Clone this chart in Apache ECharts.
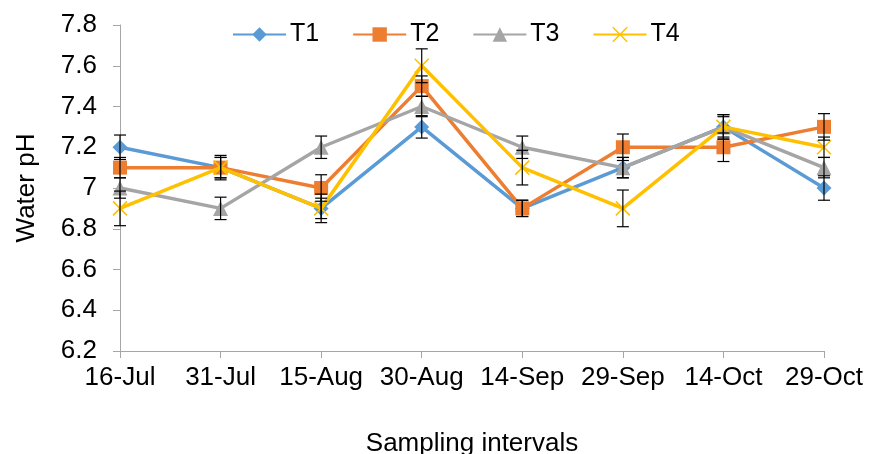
<!DOCTYPE html>
<html>
<head>
<meta charset="utf-8">
<script src="https://cdn.jsdelivr.net/npm/echarts@6/dist/echarts.min.js"></script>
<style>
html, body { margin: 0; padding: 0; background: #fff; }
#chart { width: 871px; height: 454px; }
</style>
</head>
<body>
<div id="chart"></div>
<script>
var dates = ['16-Jul', '31-Jul', '15-Aug', '30-Aug', '14-Sep', '29-Sep', '14-Oct', '29-Oct'];
var t1 = [7.2, 7.1, 6.9, 7.3, 6.9, 7.1, 7.3, 7.0];
var t2 = [7.1, 7.1, 7.0, 7.5, 6.9, 7.2, 7.2, 7.3];
var t3 = [7.0, 6.9, 7.2, 7.4, 7.2, 7.1, 7.3, 7.1];
var t4 = [6.9, 7.1, 6.9, 7.6, 7.1, 6.9, 7.3, 7.2];
var t1Err = [0.06, 0.05, 0.05, 0.055, 0.04, 0.05, 0.05, 0.06];
var t2Err = [0.05, 0.05, 0.065, 0.05, 0.04, 0.065, 0.07, 0.065];
var t3Err = [0.05, 0.055, 0.055, 0.05, 0.055, 0.05, 0.06, 0.05];
var t4Err = [0.085, 0.06, 0.07, 0.083, 0.085, 0.09, 0.06, 0.05];

var names = ['T1', 'T2', 'T3', 'T4'];
var colors = ['#5b9bd5', '#ed7d31', '#a5a5a5', '#ffc000'];
var values = [t1, t2, t3, t4];
var errors = [t1Err, t2Err, t3Err, t4Err];
var symbols = ['diamond', 'rect', 'triangle', 'path://M0,0L10,10M10,0L0,10'];
var symbolSizes = [15, 14, 15, 14];

function errorRender(params, api) {
	var i = api.value(0);
	var lo = api.coord([i, api.value(1)]);
	var hi = api.coord([i, api.value(2)]);
	var cap = 6;
	var style = { stroke: '#000', lineWidth: 1.2 };
	return {
		type: 'group',
		children: [
			{ type: 'line', shape: { x1: lo[0], y1: lo[1], x2: hi[0], y2: hi[1] }, style: style },
			{ type: 'line', shape: { x1: lo[0] - cap, y1: lo[1], x2: lo[0] + cap, y2: lo[1] }, style: style },
			{ type: 'line', shape: { x1: hi[0] - cap, y1: hi[1], x2: hi[0] + cap, y2: hi[1] }, style: style }
		]
	};
}

var series = [];
for (var s = 0; s < 4; s++) {
	var isX = s === 3;
	series.push({
		name: names[s],
		type: 'line',
		data: values[s],
		symbol: symbols[s],
		symbolSize: symbolSizes[s],
		showAllSymbol: true,
		z: 2 + s,
		lineStyle: { color: colors[s], width: 3.5 },
		itemStyle: isX ? { color: 'none', borderColor: colors[s], borderWidth: 1.5 } : { color: colors[s] },
		emphasis: { disabled: true }
	});
	var errData = [];
	for (var k = 0; k < dates.length; k++) {
		errData.push([k, values[s][k] - errors[s][k], values[s][k] + errors[s][k]]);
	}
	series.push({
		type: 'custom',
		name: names[s] + ' err',
		renderItem: errorRender,
		data: errData,
		encode: { x: 0, y: [1, 2] },
		z: 10,
		silent: true
	});
}

var chart = echarts.init(document.getElementById('chart'));
chart.setOption({
	animation: false,
	textStyle: { fontFamily: 'Liberation Sans, Arial, sans-serif' },
	legend: {
		data: names.map(function (n, i) {
			return { name: n, itemStyle: i === 3 ? { color: 'none', borderColor: colors[3], borderWidth: 1.5 } : { color: colors[i] } };
		}),
		top: 17,
		left: 227,
		itemWidth: 53,
		itemHeight: 18,
		itemGap: 33,
		textStyle: { color: '#000', fontSize: 25, padding: [0, 0, 0, -1] }
	},
	grid: { left: 120, right: 47, top: 25, bottom: 103, outerBoundsMode: 'none', containLabel: false },
	xAxis: {
		type: 'category',
		data: dates,
		boundaryGap: false,
		name: 'Sampling intervals',
		nameLocation: 'middle',
		nameGap: 80,
		nameTextStyle: { color: '#000', fontSize: 26 },
		axisLine: { lineStyle: { color: '#a6a6a6', width: 1 } },
		axisTick: { show: true, length: 7, alignWithLabel: true, lineStyle: { color: '#a6a6a6' } },
		axisLabel: { color: '#000', fontSize: 26, margin: 14, interval: 0 },
		splitLine: { show: false }
	},
	yAxis: {
		type: 'value',
		min: 6.2,
		max: 7.8,
		interval: 0.2,
		name: 'Water pH',
		nameLocation: 'middle',
		nameGap: 80,
		nameTextStyle: { color: '#000', fontSize: 26 },
		axisLine: { show: true, lineStyle: { color: '#a6a6a6', width: 1 } },
		axisTick: { show: true, length: 7, lineStyle: { color: '#a6a6a6' } },
		axisLabel: { color: '#000', fontSize: 26, margin: 23 },
		splitLine: { show: false }
	},
	series: series
});
</script>
</body>
</html>
